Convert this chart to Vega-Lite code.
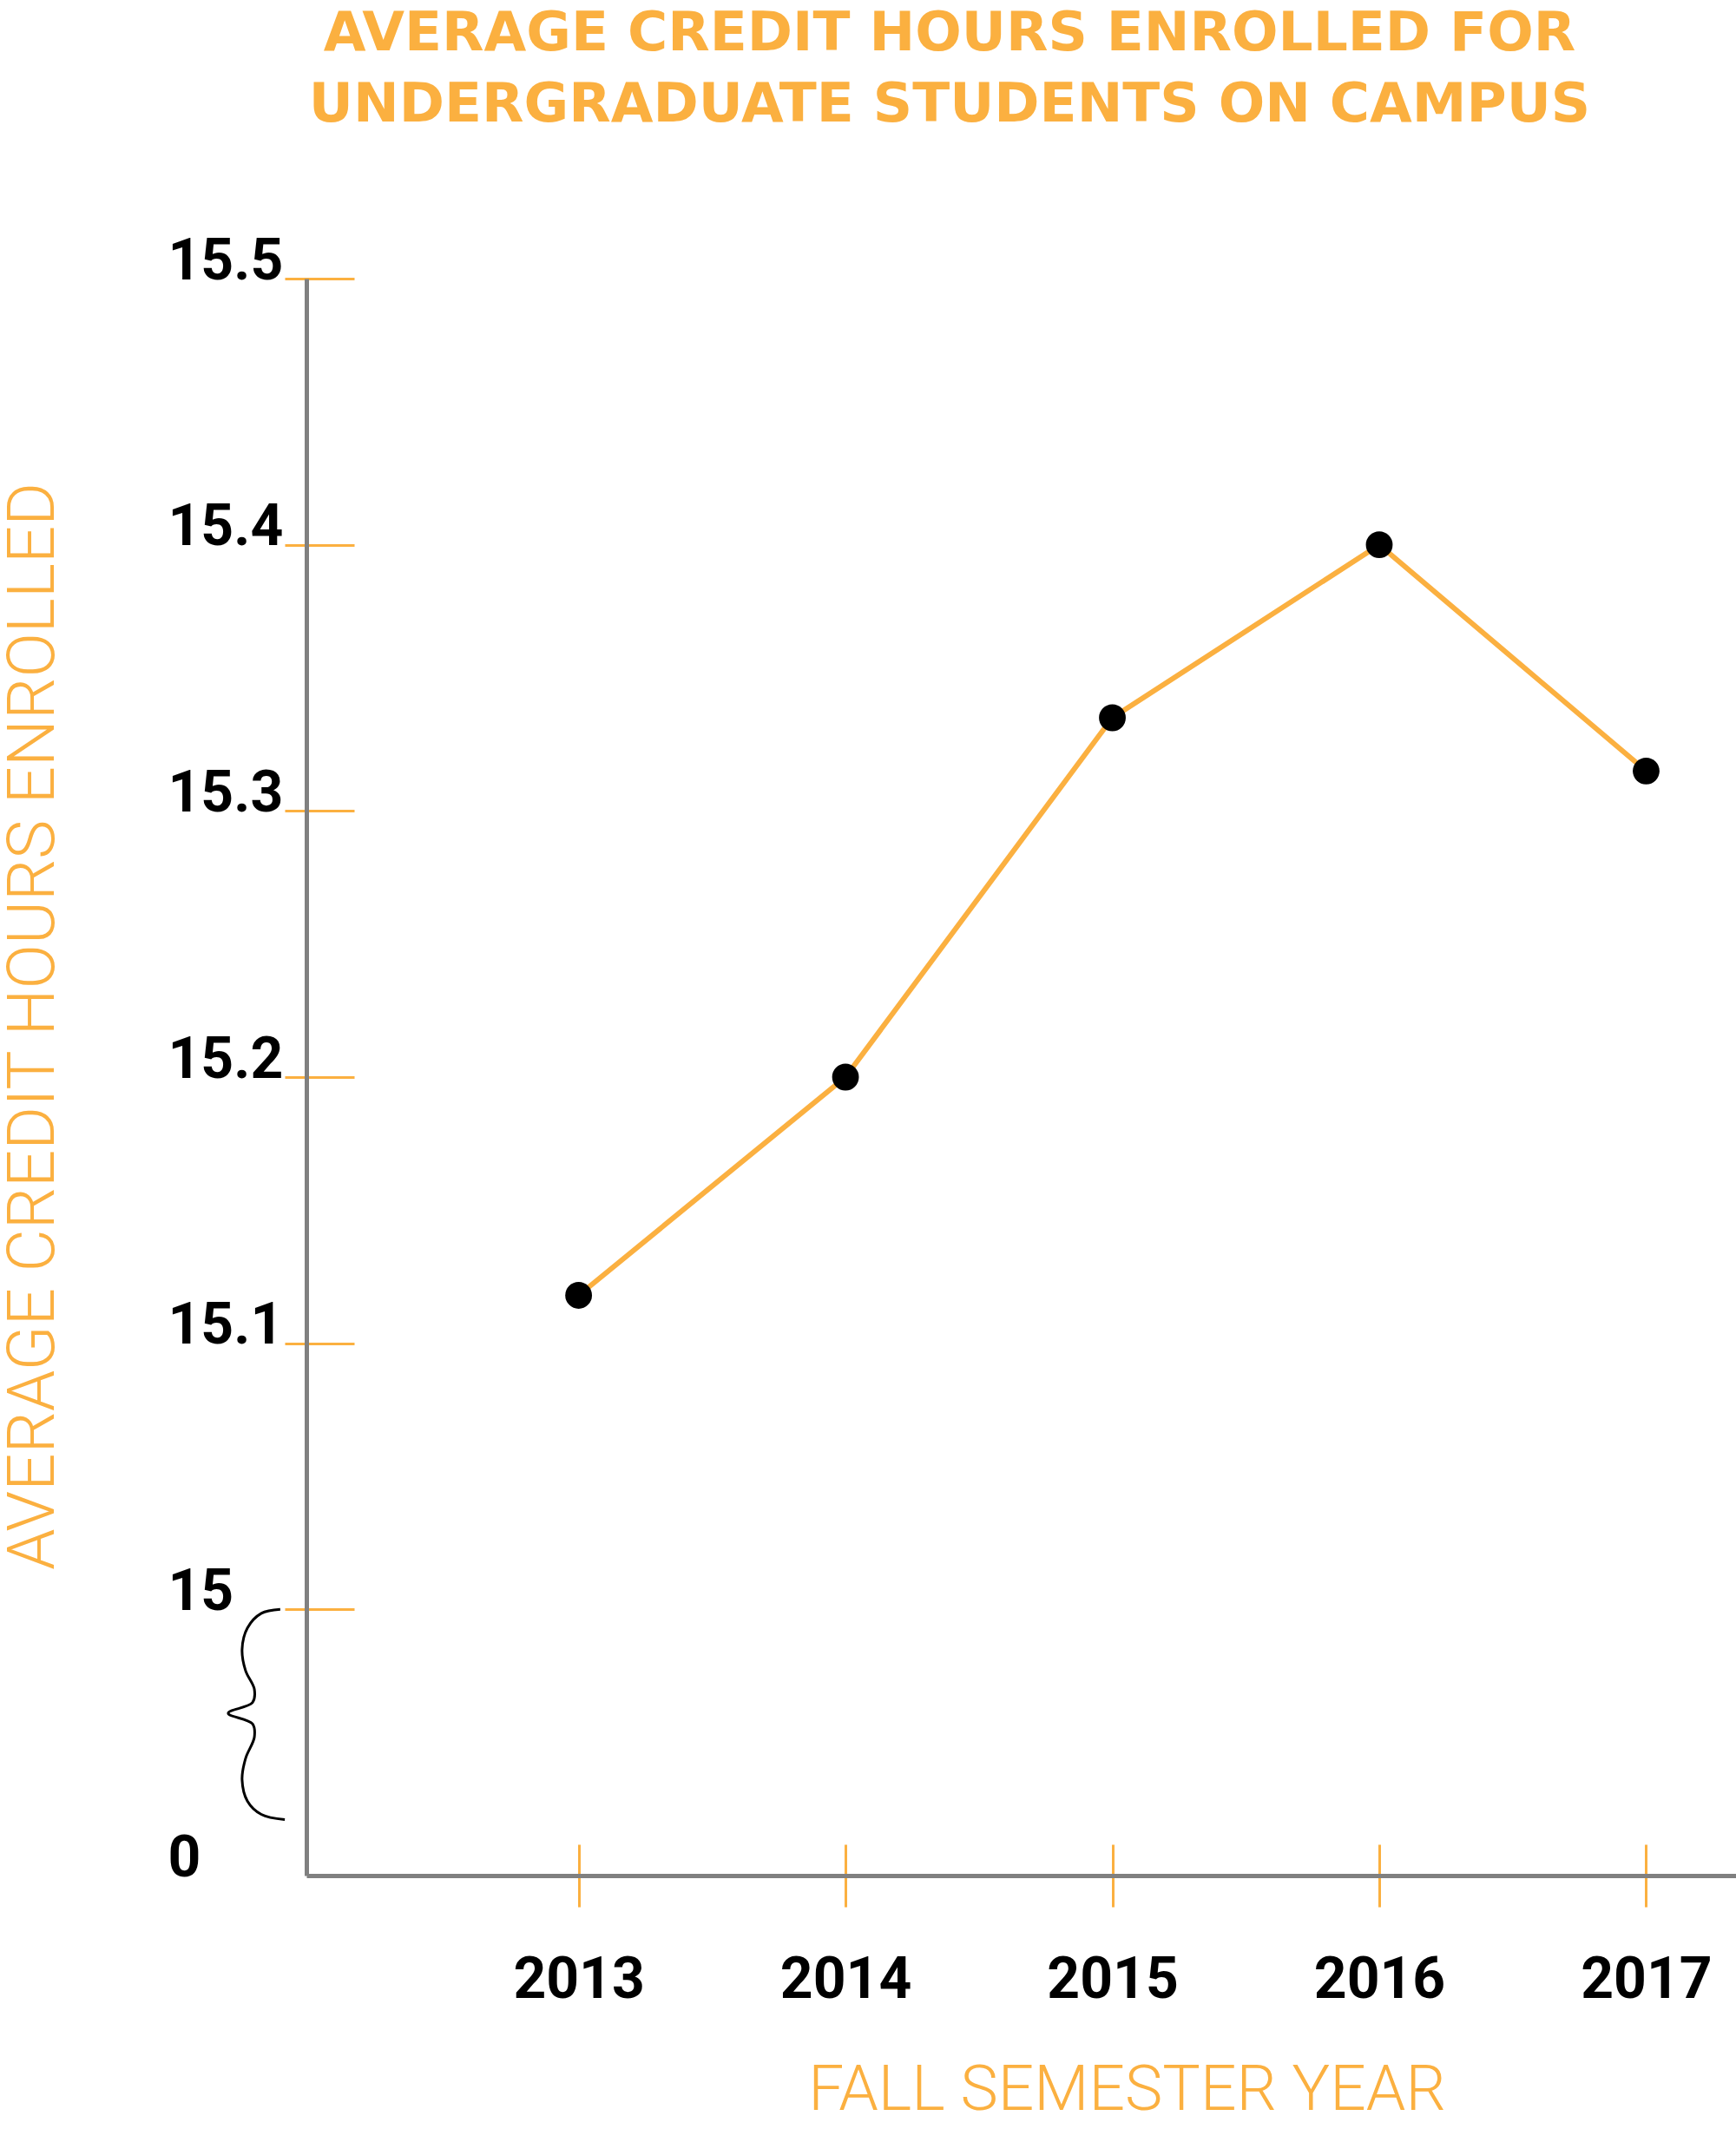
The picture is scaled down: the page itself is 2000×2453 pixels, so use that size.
{
  "$schema": "https://vega.github.io/schema/vega-lite/v6.json",
  "width": 1648,
  "height": 1840,
  "padding": {"left": 0, "top": 8, "right": 0, "bottom": 0},
  "background": "white",
  "config": {"view": {"stroke": null}},
  "title": {
    "text": ["AVERAGE CREDIT HOURS ENROLLED FOR", "UNDERGRADUATE STUDENTS ON CAMPUS"],
    "font": "DejaVu Sans",
    "fontWeight": "bold",
    "fontSize": 63,
    "color": "#FBB040",
    "lineHeight": 82,
    "anchor": "middle",
    "frame": "group",
    "baseline": "top",
    "dx": -83,
    "offset": 115
  },
  "data": {
    "values": [
      {"year": 2013, "hours": 15.118},
      {"year": 2014, "hours": 15.2},
      {"year": 2015, "hours": 15.335},
      {"year": 2016, "hours": 15.4},
      {"year": 2017, "hours": 15.315}
    ]
  },
  "layer": [
    {
      "data": {
        "values": [
          {"i": 1, "bx": 2011.882, "by": 15.0},
          {"i": 2, "bx": 2011.811, "by": 14.9985},
          {"i": 3, "bx": 2011.759, "by": 14.993},
          {"i": 4, "bx": 2011.739, "by": 14.985},
          {"i": 5, "bx": 2011.752, "by": 14.977},
          {"i": 6, "bx": 2011.785, "by": 14.970},
          {"i": 7, "bx": 2011.778, "by": 14.965},
          {"i": 8, "bx": 2011.687, "by": 14.961},
          {"i": 9, "bx": 2011.778, "by": 14.957},
          {"i": 10, "bx": 2011.785, "by": 14.952},
          {"i": 11, "bx": 2011.752, "by": 14.944},
          {"i": 12, "bx": 2011.739, "by": 14.936},
          {"i": 13, "bx": 2011.759, "by": 14.928},
          {"i": 14, "bx": 2011.811, "by": 14.923},
          {"i": 15, "bx": 2011.899, "by": 14.921}
        ]
      },
      "mark": {"type": "line", "color": "black", "strokeWidth": 3, "interpolate": "catmull-rom"},
      "encoding": {
        "x": {"field": "bx", "type": "quantitative", "scale": {"domain": [2011.98, 2017.34], "zero": false, "nice": false}, "axis": null},
        "y": {"field": "by", "type": "quantitative", "scale": {"domain": [14.9, 15.5], "zero": false, "nice": false}, "axis": null},
        "order": {"field": "i", "type": "quantitative"}
      }
    },
    {
      "mark": {"type": "line", "color": "#FBB040", "strokeWidth": 6},
      "encoding": {
        "x": {
          "field": "year", "type": "quantitative",
          "scale": {"domain": [2011.98, 2017.34], "zero": false, "nice": false},
          "axis": {"orient": "bottom", "values": [2013, 2014, 2015, 2016, 2017], "offset": -36, "tickSize": 72, "ticks": true, "tickColor": "#FBB040", "tickWidth": 3, "labels": false, "domain": false, "grid": false, "title": null}
        },
        "y": {
          "field": "hours", "type": "quantitative",
          "scale": {"domain": [14.9, 15.5], "zero": false, "nice": false},
          "axis": {"orient": "left", "values": [15, 15.1, 15.2, 15.3, 15.4, 15.5], "offset": -55, "tickSize": 80, "ticks": true, "tickColor": "#FBB040", "tickWidth": 3, "labels": false, "domain": false, "grid": false, "title": null}
        }
      }
    },
    {
      "mark": {"type": "circle", "color": "black", "opacity": 1, "size": 950},
      "encoding": {
        "x": {
          "field": "year", "type": "quantitative",
          "scale": {"domain": [2011.98, 2017.34], "zero": false, "nice": false},
          "axis": {
            "orient": "bottom",
            "values": [2013, 2014, 2015, 2016, 2017], "format": "d",
            "ticks": false, "grid": false,
            "domain": true, "domainColor": "#808080", "domainWidth": 5,
            "labelFont": "Roboto", "labelFontWeight": "bold", "labelFontSize": 66, "labelColor": "black",
            "labelPadding": 88, "labelBaseline": "top", "labelFlush": false,
            "title": "FALL SEMESTER YEAR",
            "titleFont": "Roboto", "titleFontWeight": 300, "titleFontSize": 73, "titleColor": "#FBB040",
            "titleX": 945, "titleY": 211, "titleBaseline": "top", "titleAlign": "center"
          }
        },
        "y": {
          "field": "hours", "type": "quantitative",
          "scale": {"domain": [14.9, 15.5], "zero": false, "nice": false},
          "axis": {
            "orient": "left",
            "values": [14.9, 15, 15.1, 15.2, 15.3, 15.4, 15.5],
            "labelExpr": "datum.value < 14.95 ? '\u00a0\u00a00' : format(datum.value, '.1~f')",
            "ticks": false, "grid": false,
            "domain": true, "domainColor": "#808080", "domainWidth": 5,
            "labelFont": "Roboto", "labelFontWeight": "bold", "labelFontSize": 66, "labelColor": "black",
            "labelPadding": 160, "labelAlign": "left", "labelBaseline": "alphabetic", "labelFlush": false,
            "title": "AVERAGE CREDIT HOURS ENROLLED",
            "titleFont": "Roboto", "titleFontWeight": 300, "titleFontSize": 76, "titleColor": "#FBB040",
            "titleX": -276, "titleY": 861, "titleBaseline": "bottom", "titleAngle": -90, "titleAlign": "center"
          }
        }
      }
    }
  ],
  "resolve": {"axis": {"x": "independent", "y": "independent"}}
}
